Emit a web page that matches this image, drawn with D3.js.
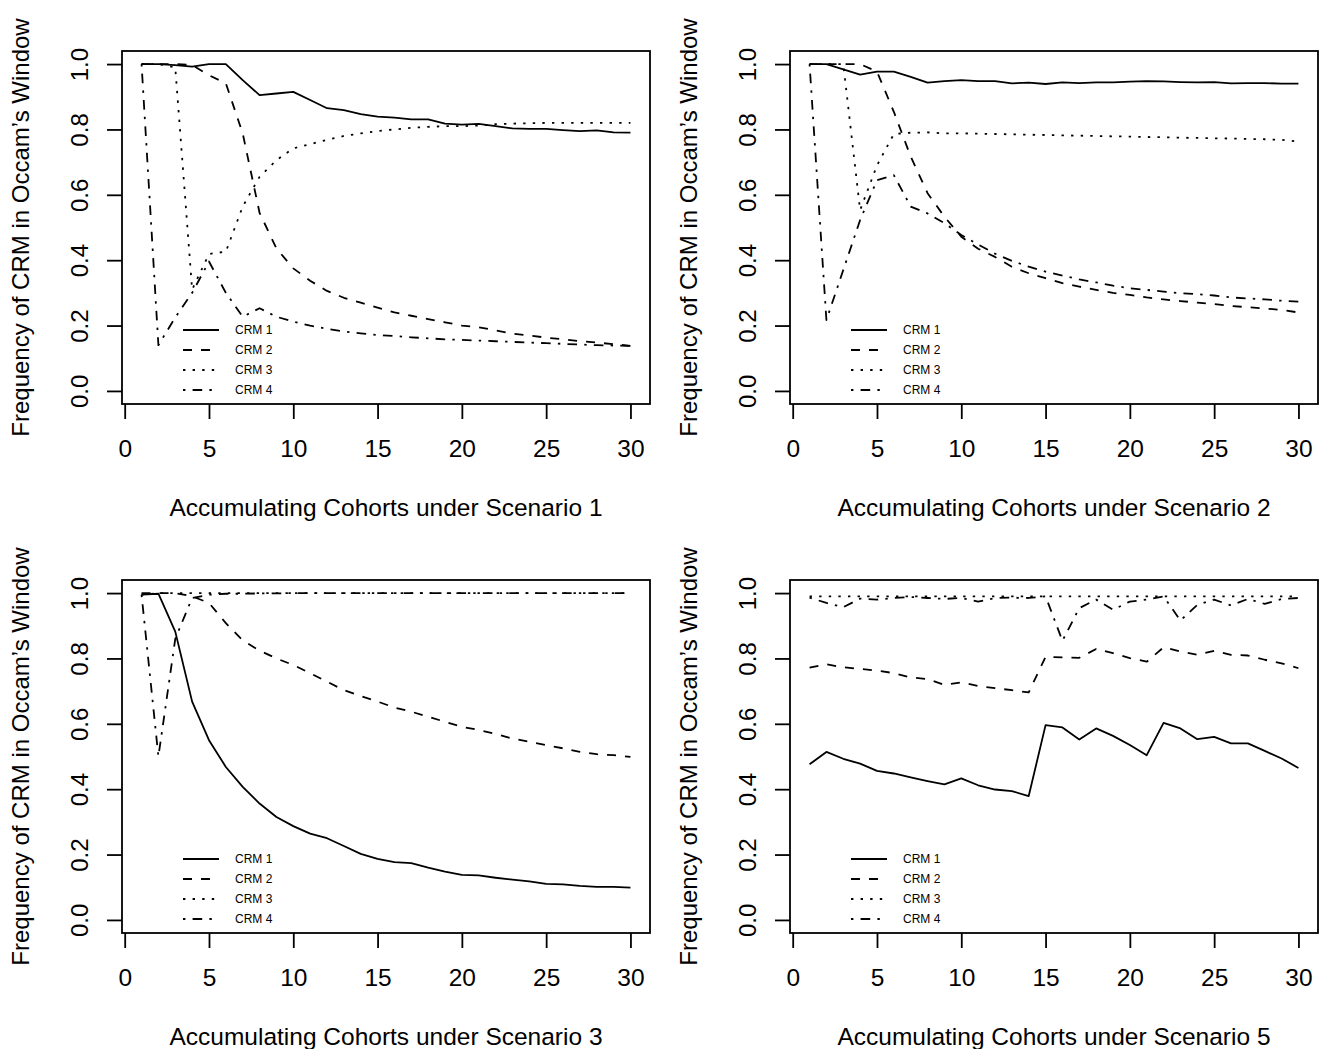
<!DOCTYPE html>
<html>
<head>
<meta charset="utf-8">
<script src="https://cdn.jsdelivr.net/npm/d3@7"></script>
<style>
  body { margin: 0; background: #fff; }
  text { font-family: "Liberation Sans", Arial, Helvetica, sans-serif; fill: #000; }
</style>
</head>
<body>
<script>
// cohorts 1..30 on the x axis
const cohorts = [1,2,3,4,5,6,7,8,9,10,11,12,13,14,15,16,17,18,19,20,21,22,23,24,25,26,27,28,29,30];
const xTicks = [0, 5, 10, 15, 20, 25, 30];
const yTicks = [0, 0.2, 0.4, 0.6, 0.8, 1.0];
const crmNames = ["CRM 1", "CRM 2", "CRM 3", "CRM 4"];
const scenarioNames = ["1", "2", "3", "5"];

// Scenario 1
const sc1Crm1 = [1.0,1.0,0.997,0.992,1.0,1.0,0.951,0.905,0.91,0.915,0.89,0.865,0.859,0.847,0.839,0.836,0.831,0.831,0.818,0.815,0.817,0.81,0.803,0.802,0.802,0.798,0.795,0.797,0.791,0.79];
const sc1Crm2 = [1.0,1.0,1.0,0.997,0.966,0.941,0.788,0.545,0.436,0.375,0.337,0.306,0.285,0.27,0.255,0.24,0.23,0.22,0.21,0.2,0.195,0.185,0.175,0.17,0.163,0.158,0.152,0.148,0.143,0.138];
const sc1Crm3 = [1.0,1.0,0.99,0.31,0.419,0.426,0.564,0.655,0.706,0.742,0.755,0.768,0.78,0.788,0.795,0.8,0.805,0.808,0.81,0.81,0.812,0.816,0.818,0.819,0.82,0.82,0.82,0.82,0.82,0.82];
const sc1Crm4 = [1.0,0.14,0.225,0.3,0.396,0.3,0.227,0.253,0.227,0.212,0.2,0.19,0.182,0.176,0.171,0.168,0.164,0.161,0.158,0.156,0.154,0.152,0.15,0.148,0.146,0.144,0.142,0.14,0.139,0.138];

// Scenario 2
const sc2Crm1 = [1.0,1.0,0.984,0.968,0.977,0.977,0.961,0.943,0.948,0.951,0.948,0.948,0.941,0.943,0.939,0.944,0.942,0.944,0.944,0.946,0.948,0.947,0.945,0.944,0.945,0.941,0.942,0.942,0.94,0.94];
const sc2Crm2 = [1.0,1.0,1.0,1.0,0.977,0.854,0.717,0.605,0.533,0.472,0.435,0.41,0.38,0.36,0.345,0.33,0.319,0.309,0.3,0.294,0.286,0.28,0.275,0.27,0.266,0.26,0.256,0.252,0.248,0.24];
const sc2Crm3 = [1.0,1.0,1.0,0.553,0.69,0.786,0.79,0.791,0.788,0.788,0.787,0.786,0.785,0.784,0.783,0.782,0.781,0.78,0.779,0.778,0.777,0.776,0.775,0.774,0.773,0.772,0.771,0.77,0.768,0.763];
const sc2Crm4 = [1.0,0.217,0.37,0.523,0.645,0.66,0.564,0.543,0.513,0.477,0.448,0.42,0.398,0.38,0.365,0.353,0.341,0.332,0.322,0.314,0.309,0.304,0.299,0.296,0.292,0.286,0.283,0.28,0.276,0.273];

// Scenario 3
const sc3Crm1 = [0.995,0.998,0.882,0.668,0.55,0.468,0.407,0.356,0.315,0.287,0.264,0.25,0.226,0.202,0.187,0.177,0.174,0.16,0.148,0.138,0.136,0.129,0.123,0.118,0.11,0.109,0.104,0.101,0.101,0.099];
const sc3Crm2 = [1.0,1.0,1.0,0.99,0.97,0.908,0.855,0.824,0.8,0.78,0.755,0.729,0.703,0.685,0.668,0.65,0.637,0.622,0.606,0.591,0.581,0.569,0.555,0.545,0.535,0.525,0.514,0.507,0.504,0.499];
const sc3Crm3 = [0.995,1.0,1.0,1.0,1.0,1.0,1.0,1.0,1.0,1.0,1.0,1.0,1.0,1.0,1.0,1.0,1.0,1.0,1.0,1.0,1.0,1.0,1.0,1.0,1.0,1.0,1.0,1.0,1.0,1.0];
const sc3Crm4 = [0.995,0.5,0.86,0.985,0.995,0.998,0.998,0.999,0.999,1.0,1.0,1.0,1.0,1.0,1.0,1.0,1.0,1.0,1.0,1.0,1.0,1.0,1.0,1.0,1.0,1.0,1.0,1.0,1.0,1.0];

// Scenario 5
const sc5Crm1 = [0.476,0.514,0.493,0.478,0.456,0.448,0.436,0.425,0.415,0.433,0.412,0.399,0.394,0.379,0.596,0.589,0.552,0.586,0.563,0.535,0.504,0.603,0.586,0.553,0.56,0.54,0.54,0.517,0.494,0.465];
const sc5Crm2 = [0.772,0.782,0.773,0.768,0.763,0.755,0.742,0.737,0.719,0.727,0.716,0.709,0.703,0.696,0.805,0.803,0.802,0.829,0.816,0.801,0.79,0.834,0.821,0.811,0.823,0.811,0.809,0.796,0.785,0.77];
const sc5Crm3 = [0.99,0.99,0.99,0.99,0.99,0.99,0.99,0.99,0.99,0.99,0.99,0.99,0.99,0.99,0.99,0.99,0.99,0.99,0.99,0.99,0.99,0.99,0.99,0.99,0.99,0.99,0.99,0.99,0.99,0.99];
const sc5Crm4 = [0.986,0.97,0.957,0.983,0.98,0.985,0.988,0.985,0.982,0.985,0.974,0.985,0.986,0.985,0.99,0.854,0.954,0.98,0.949,0.974,0.98,0.99,0.916,0.964,0.98,0.962,0.982,0.967,0.982,0.985];

const scenarios = [
  [sc1Crm1, sc1Crm2, sc1Crm3, sc1Crm4],
  [sc2Crm1, sc2Crm2, sc2Crm3, sc2Crm4],
  [sc3Crm1, sc3Crm2, sc3Crm3, sc3Crm4],
  [sc5Crm1, sc5Crm2, sc5Crm3, sc5Crm4]
];

// R-like line types: solid, dashed, dotted, dotdash
const dashes = [null, "9,9", "2.4,7.2", "2.4,7.2,9.6,7.2"];
const lw = 1.8;

const width = 1324, height = 1049;
const svg = d3.select("body").append("svg")
    .attr("width", width)
    .attr("height", height);

svg.append("rect").attr("width", width).attr("height", height).attr("fill", "#fff");

// plot box of the first panel, others are shifted
const box = {left: 122, right: 650, top: 51, bottom: 404};
const offsets = [[0, 0], [668, 0], [0, 529], [668, 529]];

scenarios.forEach((series, p) => {
  const [dx, dy] = offsets[p];
  const left = box.left + dx, right = box.right + dx;
  const top = box.top + dy, bottom = box.bottom + dy;

  // R's 4% axis extension
  const xPad = 0.04 * (30 - 1);
  const x = d3.scaleLinear().domain([1 - xPad, 30 + xPad]).range([left, right]);
  const y = d3.scaleLinear().domain([-0.04, 1.04]).range([bottom, top]);

  const g = svg.append("g");

  // x axis
  g.append("g")
      .attr("transform", `translate(0,${bottom})`)
      .call(d3.axisBottom(x).tickValues(xTicks).tickSize(15).tickSizeOuter(0).tickPadding(21))
      .call(a => a.select(".domain").remove())
      .call(a => a.selectAll("line").attr("stroke", "#000").attr("stroke-width", lw))
      .call(a => a.selectAll("text").attr("font-size", 24.5).attr("font-family", null));

  // y axis, labels parallel to the axis like R
  g.append("g")
      .attr("transform", `translate(${left},0)`)
      .call(d3.axisLeft(y).tickValues(yTicks).tickFormat(d3.format(".1f")).tickSize(15).tickSizeOuter(0))
      .call(a => a.select(".domain").remove())
      .call(a => a.selectAll("line").attr("stroke", "#000").attr("stroke-width", lw))
      .call(a => a.selectAll("text")
          .attr("font-size", 24)
          .attr("font-family", null)
          .attr("transform", "rotate(-90)")
          .attr("x", 0)
          .attr("y", -34)
          .attr("dy", 0)
          .attr("text-anchor", "middle"));

  // the lines
  const line = d3.line()
    .x((d, i) => x(cohorts[i]))
    .y(d => y(d));

  series.forEach((vals, k) => {
    g.append("path")
      .attr("d", line(vals))
      .attr("fill", "none")
      .attr("stroke", "#000")
      .attr("stroke-width", lw)
      .attr("stroke-linejoin", "round")
      .attr("stroke-dasharray", dashes[k]);
  });

  // box
  g.append("rect")
      .attr("x", left).attr("y", top)
      .attr("width", right - left).attr("height", bottom - top)
      .attr("fill", "none")
      .attr("stroke", "#000")
      .attr("stroke-width", lw);

  // legend, no frame
  const leg = g.append("g").attr("transform", `translate(${left + 61},${top + 279})`);
  crmNames.forEach((name, k) => {
    leg.append("line")
      .attr("x1", 0).attr("x2", 36)
      .attr("y1", k * 20).attr("y2", k * 20)
      .attr("stroke", "#000")
      .attr("stroke-width", lw)
      .attr("stroke-dasharray", dashes[k]);
    leg.append("text")
      .attr("x", 52).attr("y", k * 20)
      .attr("dy", "0.36em")
      .attr("font-size", 12)
      .text(name);
  });

  // axis titles
  g.append("text")
      .attr("x", (left + right) / 2)
      .attr("y", 516 + dy)
      .attr("text-anchor", "middle")
      .attr("font-size", 24.5)
      .text("Accumulating Cohorts under Scenario " + scenarioNames[p]);

  g.append("text")
      .attr("transform", `translate(${29 + dx},${(top + bottom) / 2}) rotate(-90)`)
      .attr("text-anchor", "middle")
      .attr("font-size", 24)
      .text("Frequency of CRM in Occam\u2019s Window");
});
</script>
</body>
</html>
